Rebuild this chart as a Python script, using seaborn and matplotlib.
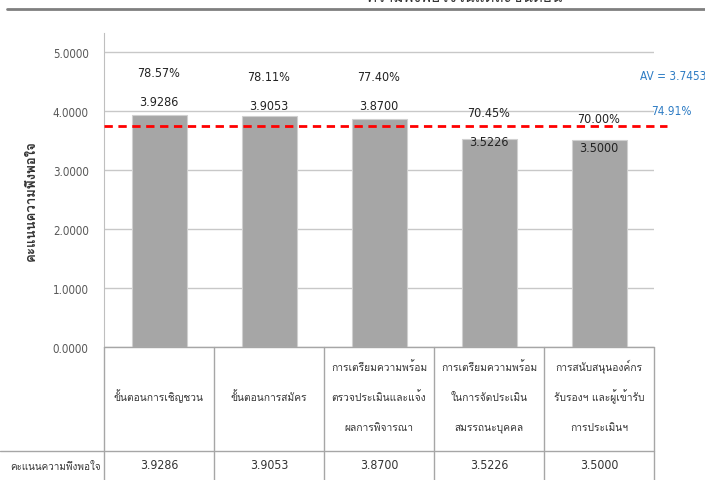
import matplotlib as mpl
import matplotlib.pyplot as plt
import matplotlib.transforms as mtransforms
from matplotlib import font_manager
from matplotlib.font_manager import FontProperties
from matplotlib.lines import Line2D
import pandas as pd
import seaborn as sns

categories = [
    "ขั้นตอนการเชิญชวน",
    "ขั้นตอนการสมัคร",
    "การเตรียมความพร้อม\nตรวจประเมินและแจ้ง\nผลการพิจารณา",
    "การเตรียมความพร้อม\nในการจัดประเมิน\nสมรรถนะบุคคล",
    "การสนับสนุนองค์กร\nรับรองฯ และผู้เข้ารับ\nการประเมินฯ",
]
scores = [3.9286, 3.9053, 3.8700, 3.5226, 3.5000]
percents = ["78.57%", "78.11%", "77.40%", "70.45%", "70.00%"]
average = 3.7453
average_pct = "74.91%"
row_label = "คะแนนความพึงพอใจ"
yticks = [0, 1, 2, 3, 4, 5]


def find_thai_font():
    from fontTools.ttLib import TTFont
    for f in font_manager.fontManager.ttflist:
        try:
            tt = TTFont(f.fname, fontNumber=0, lazy=True)
            if 0x0E01 in tt.getBestCmap():
                return f.name
        except Exception:
            continue
    return "DejaVu Sans"


def find_narrow_font():
    # a condensed face for the numbers, if there is one
    cands = [f for f in font_manager.fontManager.ttflist
             if (f.stretch in ("condensed", "semi-condensed",
                               "extra-condensed") or "Narrow" in f.name
                 or "Condensed" in f.name)
             and f.style == "normal" and f.weight in (400, "normal", "regular")]
    cands.sort(key=lambda f: ("Liberation" not in f.name, "DejaVu" not in f.name))
    if cands:
        return cands[0].fname
    return None


sns.set_style("white")
thai = find_thai_font()
narrow_path = find_narrow_font()
plt.rcParams["font.family"] = [thai, "DejaVu Sans"]


def num_font(size):
    if narrow_path:
        return FontProperties(fname=narrow_path, size=size)
    return FontProperties(family="DejaVu Sans", size=size * 0.8)


df = pd.DataFrame({"cat": categories, "score": scores})

fig = plt.figure(figsize=(7.05, 4.81), dpi=100)
W, H = 705, 481
ax = fig.add_axes([104 / W, (H - 348) / H, 550 / W, 314 / H])

sns.barplot(data=df, x="cat", y="score", color="#A6A6A6", width=0.5,
            saturation=1, edgecolor="#D0D0D0", linewidth=0.8, ax=ax, zorder=3)
ax.set_ylim(0, 5.32)
ax.set_xlim(-0.5, 4.5)
ax.set_yticks(yticks)
ax.set_yticklabels([f"{t:.4f}" for t in yticks], color="#595959",
                   fontproperties=num_font(8.3))
ax.set_xticks([])
ax.set_xlabel("")
ax.set_ylabel(row_label, fontsize=9.5, fontweight="bold", color="#333333")
ax.yaxis.set_label_coords(-0.12, 0.47)
ax.tick_params(axis="y", length=5, color="#BFBFBF", pad=6)
ax.grid(axis="y", color="#C8C8C8", linewidth=1, zorder=0)
for s in ["top", "right", "bottom"]:
    ax.spines[s].set_visible(False)
ax.spines["left"].set_color("#BFBFBF")

# average line
ax.axhline(average, xmin=0, xmax=1.024, color="#FF0000", linestyle=(0, (3, 2)),
           linewidth=2, zorder=4, clip_on=False)
ax.text(1.0 - 14 / 550, 4.6, f"AV = {average}", transform=ax.get_yaxis_transform(),
        color="#2E7CC4", fontproperties=num_font(8.5), va="center", ha="left")
ax.text(1.0 - 3 / 550, 4.0, average_pct, transform=ax.get_yaxis_transform(),
        color="#2E7CC4", fontproperties=num_font(8.5), va="center", ha="left")

# bar labels
val_off = [14, 11, 13, -2, -7]
for i, (v, p) in enumerate(zip(scores, percents)):
    ax.annotate(f"{v:.4f}", (i, v), xytext=(0, val_off[i] * 0.72), textcoords="offset points",
                ha="center", va="center", fontproperties=num_font(9), color="#222222", zorder=5)
    ax.annotate(p, (i, v), xytext=(0, (val_off[i] + 29) * 0.72), textcoords="offset points",
                ha="center", va="center", fontproperties=num_font(9), color="#222222", zorder=5)

# data table below
trans = mtransforms.blended_transform_factory(ax.transData, fig.transFigure)
def fy(px):
    return (H - px) / H

for i, c in enumerate(categories):
    lines = c.split("\n")
    n = len(lines)
    for k, ln in enumerate(lines):
        ypx = 401 + (k - (n - 1) / 2) * 30
        ax.text(i, fy(ypx), ln, transform=trans, ha="center", va="baseline", fontsize=7.4,
                color="#333333", clip_on=False)
    ax.text(i, fy(466), f"{scores[i]:.4f}", transform=trans, ha="center", va="center",
            fontproperties=num_font(8.8), color="#333333", clip_on=False)
fig.text(10 / W, fy(470), row_label, ha="left", va="baseline", fontsize=7.1, color="#333333")

line_c = "#A6A6A6"
for xpx in [104, 214, 324, 434, 544, 654]:
    fig.add_artist(Line2D([xpx / W, xpx / W], [fy(348), 0], color=line_c, linewidth=1))
fig.add_artist(Line2D([104 / W, 654 / W], [fy(348), fy(348)], color=line_c, linewidth=1))
fig.add_artist(Line2D([0, 654 / W], [fy(452), fy(452)], color=line_c, linewidth=1))

# clipped title and rule at top
fig.add_artist(Line2D([7 / W, 1], [fy(10), fy(10)], color="#7F7F7F", linewidth=2))
fig.text(465 / W, fy(-3), "ความพึงพอใจในแต่ละขั้นตอน",
         ha="center", va="center", fontsize=11, color="#333333")

fig.savefig("out.png", dpi=100)
